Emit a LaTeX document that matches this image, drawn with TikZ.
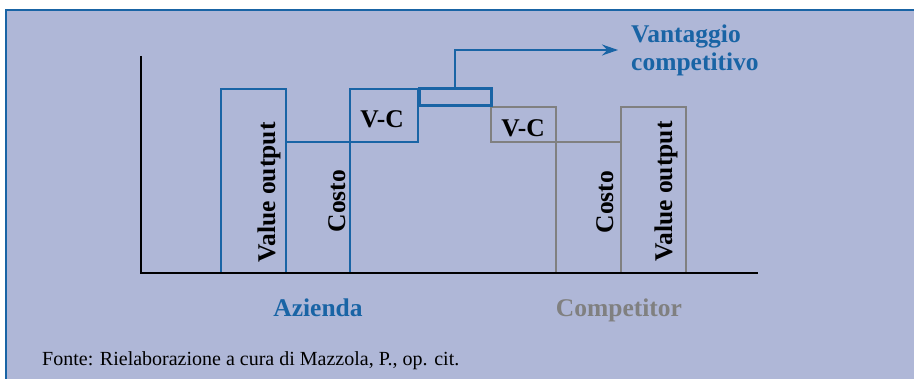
\documentclass[tikz,border=0pt]{standalone}
\usepackage{fontspec}
\setmainfont{Liberation Serif}
\usetikzlibrary{arrows.meta}
\definecolor{bgfill}{RGB}{175,183,215}
\definecolor{azblue}{RGB}{25,100,165}
\definecolor{compgray}{RGB}{128,128,128}

\begin{document}
\begin{tikzpicture}[x=1pt,y=-1pt,
		azbox/.style={draw=azblue,line width=1.2pt},
		compbox/.style={draw=compgray,line width=1.2pt},
		lbl/.style={font=\fontsize{25.5}{28}\selectfont\bfseries,inner sep=0pt},
		vantbox/.style={draw=azblue,line width=3pt,inner sep=0pt,outer sep=0pt}]
			% page size and background panel
			\useasboundingbox (0,0) rectangle (914,379);
			\fill[bgfill] (6,10) rectangle (914,379);
			\draw[azblue,line width=2.2pt] (914,10) -- (6,10) -- (6,379);
			
			% base line of the bars
			\def\base{273}
			
			% Azienda: value output, costo, V-C
			\draw[azbox] (221,89) rectangle (286,\base);
			\draw[azbox] (286,142) rectangle (350,\base);
			\draw[azbox] (350,89) rectangle (418,142);
			% Competitor: V-C, costo, value output
			\draw[compbox] (491,107) rectangle (556,142);
			\draw[compbox] (556,142) rectangle (621,\base);
			\draw[compbox] (621,107) rectangle (686,\base);
			
			% the gap between the two V-C
			\node[vantbox,minimum width=72pt,minimum height=17pt,anchor=north west] (vant) at (419,89) {};
			\node[lbl,text=azblue,align=left,anchor=west,inner xsep=13pt] (vanttext) at (618,50) {Vantaggio\\competitivo};
			\draw[azblue,line width=1.4pt,-{Stealth[length=16pt,width=11pt]}] (vant.north) |- (vanttext.west);
			
			% Axes
			\draw[line width=2.2pt] (141,56) -- (141,\base) -- (758,\base);
			
			% labels inside the bars
			\node[lbl,rotate=90,anchor=base] (azvalue) at (275,192.5) {Value output};
			\node[lbl,rotate=90,anchor=base] (azcosto) at (345,201) {Costo};
			\node[lbl,anchor=base] (azvc) at (382,128) {V-C};
			\node[lbl,anchor=base] (compvc) at (523,137) {V-C};
			\node[lbl,rotate=90,anchor=base] (compcosto) at (613,202) {Costo};
			\node[lbl,rotate=90,anchor=base] (compvalue) at (672,191.5) {Value output};
			
			% names below the axis
			\node[lbl,text=azblue,anchor=base] (azienda) at (318,317) {Azienda};
			\node[lbl,text=compgray,anchor=base] (competitor) at (619,317) {Competitor};
			
			% source
			\node[font=\fontsize{20}{23}\selectfont,anchor=base west,inner sep=0pt] (fonte) at (42,366) {Fonte: Rielaborazione a cura di Mazzola, P., op. cit.};
			
			\end{tikzpicture}
\end{document}
